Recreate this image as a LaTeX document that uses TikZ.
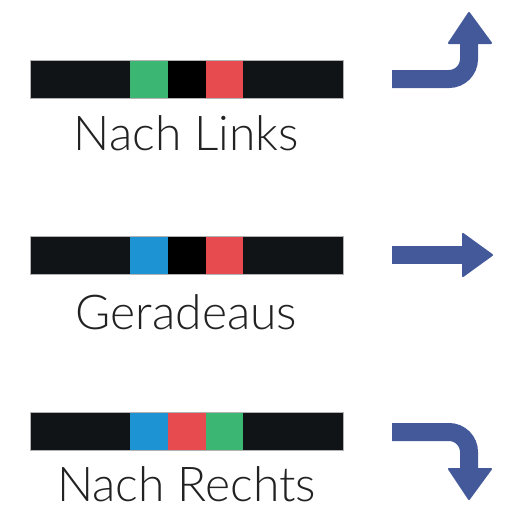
\documentclass[tikz,border=0pt]{standalone}
\usepackage{fontspec}
\setmainfont{Lato Light}
\definecolor{barblack}{RGB}{17,20,23}
\definecolor{bargreen}{RGB}{59,183,115}
\definecolor{barred}{RGB}{231,74,79}
\definecolor{barblue}{RGB}{30,147,212}
\definecolor{arrowblue}{RGB}{67,89,154}
\definecolor{textgray}{RGB}{34,34,34}

\begin{document}
\begin{tikzpicture}[x=1pt, y=-1pt]
\tikzset{seg/.style={minimum height=38pt, inner sep=0pt, outer sep=0pt, anchor=west},
  longseg/.style={seg, fill=barblack, minimum width=100pt},
  shortseg/.style={seg, minimum width=38pt},
  caption/.style={anchor=base, text=textgray, font=\fontsize{48}{54}\selectfont, inner sep=0pt},
  turn/.style={draw=arrowblue, line width=18pt, rounded corners=20pt},
  arrowhead/.style={fill=arrowblue, draw=arrowblue, line width=2pt, line join=round}}
\useasboundingbox (0,0) rectangle (506,509);
% Nach Links
\node[longseg] (L1) at (30,79) {};
\node[shortseg, fill=bargreen] (L2) at (130,79) {};
\node[shortseg, fill=black] (L3) at (168,79) {};
\node[shortseg, fill=barred] (L4) at (206,79) {};
\node[longseg] (L5) at (243,79) {};
\draw[gray!60, line width=0.8pt] (L1.north west) rectangle (L5.south east);
\node[caption] (links) at (186.5,150) {Nach Links};
\draw[turn] (392,79) -- (469,79) -- (469,44);
\filldraw[arrowhead] (449,43) -- (491,43) -- (469,13) -- cycle;
% Geradeaus
\node[longseg] (G1) at (30,255) {};
\node[shortseg, fill=barblue] (G2) at (130,255) {};
\node[shortseg, fill=black] (G3) at (168,255) {};
\node[shortseg, fill=barred] (G4) at (206,255) {};
\node[longseg] (G5) at (243,255) {};
\draw[gray!60, line width=0.8pt] (G1.north west) rectangle (G5.south east);
\node[caption] (gerade) at (186.5,329) {Geradeaus};
\draw[turn] (392,255) -- (464,255);
\filldraw[arrowhead] (463,234) -- (463,276) -- (492,255) -- cycle;
% Nach Rechts
\node[longseg] (R1) at (30,431) {};
\node[shortseg, fill=barblue] (R2) at (130,431) {};
\node[shortseg, fill=barred] (R3) at (168,431) {};
\node[shortseg, fill=bargreen] (R4) at (206,431) {};
\node[longseg] (R5) at (243,431) {};
\draw[gray!60, line width=0.8pt] (R1.north west) rectangle (R5.south east);
\node[caption] (rechts) at (186.5,501) {Nach Rechts};
\draw[turn] (392,432) -- (469,432) -- (469,468);
\filldraw[arrowhead] (449,469) -- (491,469) -- (469,499) -- cycle;
\end{tikzpicture}
\end{document}
